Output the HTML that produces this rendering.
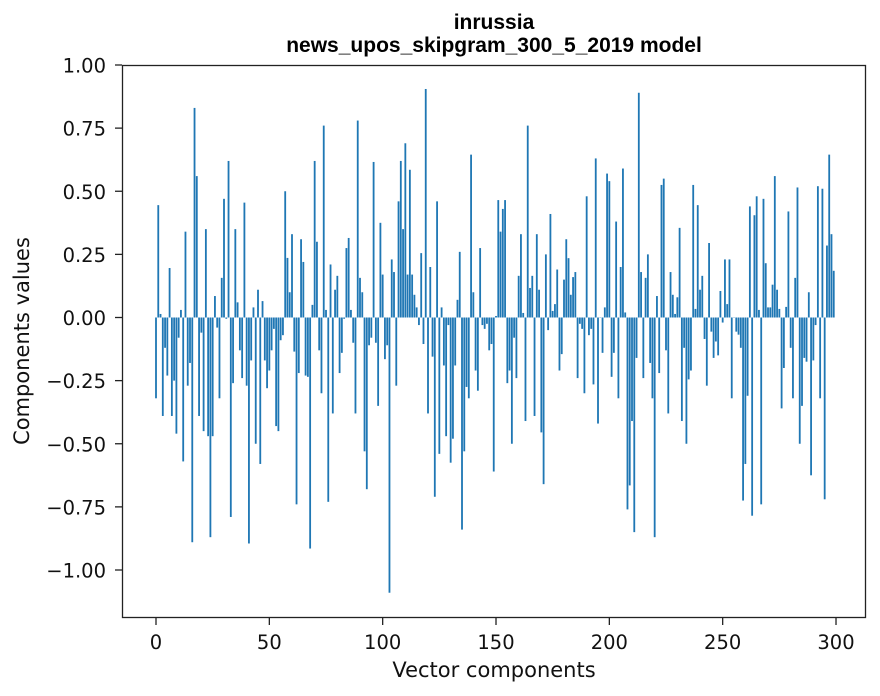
<!DOCTYPE html>
<html><head><meta charset="utf-8"><style>
html,body{margin:0;padding:0;background:#fff;}
svg{display:block;font-family:"DejaVu Sans","Liberation Sans",sans-serif;}
</style></head><body>
<svg id="chart" width="880" height="696" viewBox="0 0 880 696">
<rect x="0" y="0" width="880" height="696" fill="#fff"/>
<text x="494" y="29" text-anchor="middle" font-size="21" font-weight="bold" font-family="Liberation Sans, sans-serif">inrussia</text>
<text x="494" y="52" text-anchor="middle" font-size="21" font-weight="bold" font-family="Liberation Sans, sans-serif">news_upos_skipgram_300_5_2019 model</text>
<g id="bars"></g>
<g id="xticks"></g>
<g id="yticks"></g>
<rect x="122.5" y="65.5" width="743" height="552" fill="none" stroke="#222" stroke-width="1.3"/>
<text x="494" y="677" text-anchor="middle" font-size="21" fill="#111">Vector components</text>
<text x="29" y="341" text-anchor="middle" font-size="21" fill="#111" transform="rotate(-90 29 341)">Components values</text>
</svg>
<script>
const values = [
-0.32,0.445,0.014,-0.39,-0.12,-0.23,0.196,-0.39,-0.25,-0.46,
-0.08,0.03,-0.57,0.34,-0.27,-0.18,-0.89,0.83,0.56,-0.39,
-0.06,-0.45,0.35,-0.47,-0.87,-0.47,0.085,-0.04,-0.32,0.157,
0.47,-0.005,0.62,-0.79,-0.26,0.35,0.06,-0.13,-0.24,0.455,
-0.27,-0.895,-0.17,0.04,-0.50,0.11,-0.58,0.065,-0.17,-0.28,
-0.21,-0.13,-0.045,-0.43,-0.45,-0.09,-0.07,0.50,0.236,0.10,
0.33,-0.135,-0.74,-0.22,0.31,0.22,-0.23,-0.235,-0.915,0.05,
0.62,0.30,-0.13,-0.30,0.76,0.03,-0.73,0.21,-0.38,0.11,
0.165,-0.22,-0.14,-0.005,0.275,0.315,0.03,-0.10,-0.38,0.78,
0.157,0.10,-0.53,-0.68,-0.11,-0.08,0.616,-0.10,-0.35,0.375,
0.17,-0.165,-0.11,-1.09,0.23,0.18,-0.27,0.46,0.62,0.35,
0.69,0.17,0.585,0.17,0.09,0.04,-0.03,0.255,-0.105,0.905,
-0.38,0.20,-0.155,-0.71,0.46,-0.54,0.04,-0.19,-0.47,-0.03,
-0.575,-0.48,-0.19,0.07,0.26,-0.84,-0.53,-0.275,-0.32,0.645,
0.10,-0.21,-0.29,0.275,-0.03,-0.045,-0.025,-0.13,-0.105,-0.61,
0.006,0.465,0.34,0.43,0.465,-0.26,-0.21,-0.50,-0.08,-0.24,
0.165,0.33,0.018,-0.41,0.76,0.117,0.165,-0.39,0.33,0.11,
-0.455,-0.66,0.25,-0.05,0.41,0.026,0.053,0.19,-0.21,-0.145,
0.15,0.31,0.235,0.09,0.16,0.18,-0.24,-0.025,-0.045,-0.30,
0.48,-0.07,-0.045,-0.265,0.63,-0.42,0.0,-0.14,0.04,0.57,
0.54,-0.235,-0.14,0.38,-0.32,0.20,0.59,0.02,-0.76,-0.665,
-0.41,-0.85,-0.16,0.89,0.18,-0.24,0.157,0.25,-0.18,-0.32,
-0.87,0.085,-0.22,0.525,0.55,-0.13,-0.38,0.18,0.09,0.014,
0.08,0.355,-0.41,-0.12,-0.50,-0.245,-0.21,0.525,0.034,0.445,
0.11,0.165,-0.085,-0.27,0.295,-0.056,-0.16,-0.095,-0.15,0.105,
-0.02,0.23,0.053,0.23,-0.32,0.0,-0.056,-0.068,-0.12,-0.725,
-0.58,-0.31,0.44,-0.785,0.405,0.48,0.03,-0.74,0.47,0.215,
0.04,0.04,0.13,0.56,0.11,0.034,-0.36,-0.20,0.042,0.42,
-0.12,-0.32,0.157,0.515,-0.50,-0.35,-0.16,-0.175,0.10,-0.625,
-0.17,-0.03,0.52,-0.32,0.51,-0.72,0.285,0.645,0.33,0.185
];
const xTickValues = [0,50,100,150,200,250,300];
const yTickValues = [-1.00,-0.75,-0.50,-0.25,0.00,0.25,0.50,0.75,1.00];

const NS = "http://www.w3.org/2000/svg";
const x0 = 156, xPerUnit = 2.2667;
const y0 = 317.5, yPerUnit = 252.5;
function xScale(v){ return x0 + v * xPerUnit; }
function yScale(v){ return y0 - v * yPerUnit; }

const barsG = document.getElementById('bars');
const bw = 0.8 * xPerUnit;
values.forEach((v, i) => {
  const r = document.createElementNS(NS, 'rect');
  const yv = yScale(v), yz = yScale(0);
  r.setAttribute('x', xScale(i) - bw / 2);
  r.setAttribute('y', Math.min(yv, yz));
  r.setAttribute('width', bw);
  r.setAttribute('height', Math.max(Math.abs(yz - yv), 0.3));
  r.setAttribute('fill', '#1f77b4');
  
  
  barsG.appendChild(r);
});

const xG = document.getElementById('xticks');
xTickValues.forEach(t => {
  const x = xScale(t);
  const l = document.createElementNS(NS, 'line');
  l.setAttribute('x1', x); l.setAttribute('x2', x);
  l.setAttribute('y1', 618); l.setAttribute('y2', 625);
  l.setAttribute('stroke', '#222');
  l.setAttribute('stroke-width', '1.3');
  
  
  xG.appendChild(l);
  const tx = document.createElementNS(NS, 'text');
  tx.setAttribute('x', x); tx.setAttribute('y', 649);
  tx.setAttribute('text-anchor', 'middle');
  tx.setAttribute('font-size', '19.5');
  tx.setAttribute('fill', '#111');
  tx.textContent = String(t);
  
  
  xG.appendChild(tx);
});

const yG = document.getElementById('yticks');
yTickValues.forEach(t => {
  const y = yScale(t);
  const l = document.createElementNS(NS, 'line');
  l.setAttribute('x1', 115); l.setAttribute('x2', 122);
  l.setAttribute('y1', y); l.setAttribute('y2', y);
  l.setAttribute('stroke', '#222');
  l.setAttribute('stroke-width', '1.3');
  
  
  yG.appendChild(l);
  const tx = document.createElementNS(NS, 'text');
  tx.setAttribute('x', 106); tx.setAttribute('y', y + 7.5);
  tx.setAttribute('text-anchor', 'end');
  tx.setAttribute('font-size', '19.5');
  tx.setAttribute('fill', '#111');
  tx.textContent = (t < 0 ? '\u2212' + Math.abs(t).toFixed(2) : t.toFixed(2));
  
  
  yG.appendChild(tx);
});
</script>
</body></html>
